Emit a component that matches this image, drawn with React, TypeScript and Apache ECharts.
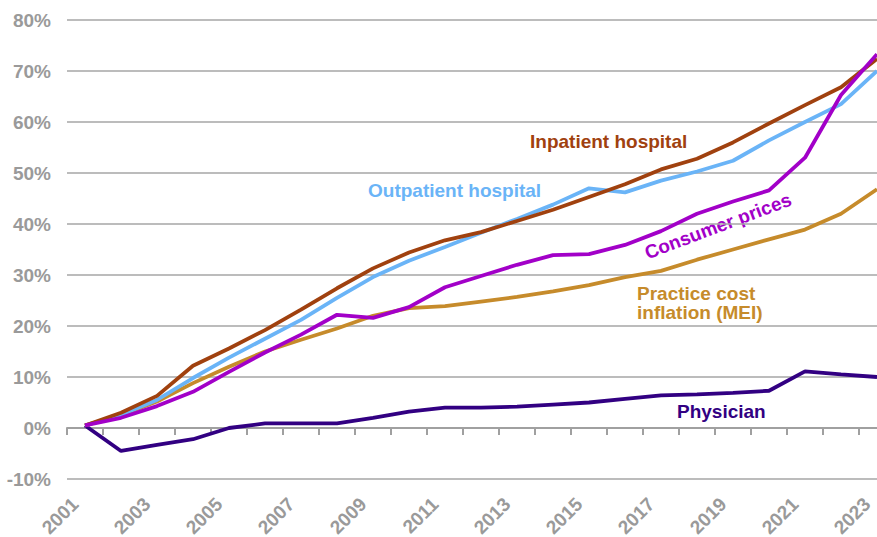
import React, { useEffect, useRef } from "react";
import * as echarts from "echarts";

const years = [
  "2001", "2002", "2003", "2004", "2005", "2006", "2007", "2008", "2009", "2010", "2011", "2012",
  "2013", "2014", "2015", "2016", "2017", "2018", "2019", "2020", "2021", "2022", "2023",
];

const inpatient = [0.5, 3.0, 6.3, 12.2, 15.6, 19.2, 23.2, 27.4, 31.3, 34.4, 36.8, 38.4, 40.6, 42.8, 45.3, 47.8, 50.7, 52.8, 56.0, 59.7, 63.3, 66.8, 72.4];
const outpatient = [0.5, 2.6, 5.5, 9.8, 13.8, 17.5, 21.2, 25.5, 29.6, 32.8, 35.5, 38.3, 41.0, 43.8, 47.0, 46.2, 48.5, 50.3, 52.4, 56.4, 60.0, 63.5, 70.0];
const consumerPrices = [0.5, 2.0, 4.3, 7.1, 11.0, 14.8, 18.3, 22.2, 21.6, 23.7, 27.6, 29.8, 32.0, 33.9, 34.1, 35.9, 38.6, 42.0, 44.4, 46.6, 53.0, 65.3, 73.3];
const practiceCost = [0.5, 2.5, 5.2, 8.8, 12.0, 15.0, 17.3, 19.5, 22.0, 23.5, 23.9, 24.8, 25.7, 26.8, 28.0, 29.6, 30.8, 33.0, 35.0, 37.0, 38.9, 42.0, 46.8];
const physician = [0.5, -4.5, -3.3, -2.2, 0.0, 0.9, 0.9, 0.9, 2.0, 3.2, 4.0, 4.0, 4.2, 4.6, 5.0, 5.7, 6.4, 6.6, 6.9, 7.3, 11.1, 10.5, 10.0];

const yTicks = { min: -10, max: 80, interval: 10 };

const C_IN = "#A0410F";
const C_OUT = "#6AB4F7";
const C_CPI = "#A200C8";
const C_MEI = "#C68B2B";
const C_PHY = "#320082";
const GRAY = "#9a9a9a";
const FONT = "'Liberation Sans', Arial, sans-serif";

export default function App() {
  const ref = useRef<HTMLDivElement>(null);

  useEffect(() => {
    const chart = echarts.init(ref.current!, null, { renderer: "svg" });
    const line = (name: string, data: number[], color: string) => ({
      name,
      type: "line",
      data,
      symbol: "none",
      lineStyle: { color, width: 3.8 },
      itemStyle: { color },
    });
    const txt = (text: string, x: number, y: number, color: string, lineHeight = 19) => ({
      type: "text",
      x,
      y,
      style: {
        text,
        fill: color,
        font: `bold 19px ${FONT}`,
        lineHeight,
        verticalAlign: "middle",
      },
    });
    chart.setOption({
      animation: false,
      backgroundColor: "#ffffff",
      grid: { left: 67, right: -18, top: 20, bottom: 58, outerBoundsMode: "none", containLabel: false },
      xAxis: {
        type: "category",
        data: years,
        boundaryGap: true,
        axisLine: { show: true, lineStyle: { color: "#a0a0a0", width: 2 } },
        axisTick: {
          show: true,
          interval: 0,
          length: 7,
          lineStyle: { color: "#a0a0a0", width: 2 },
        },
        axisLabel: {
          interval: 1,
          rotate: 45,
          margin: 12,
          padding: [0, 14, 0, 0],
          color: GRAY,
          fontSize: 19,
          fontWeight: "bold",
          fontFamily: FONT,
        },
        splitLine: { show: false },
      },
      yAxis: {
        type: "value",
        min: yTicks.min,
        max: yTicks.max,
        interval: yTicks.interval,
        axisLine: { show: false },
        axisTick: { show: false },
        axisLabel: {
          formatter: (v: number) => `${v}%`,
          margin: 16,
          color: GRAY,
          fontSize: 19,
          fontWeight: "bold",
          fontFamily: FONT,
        },
        splitLine: { lineStyle: { color: "#a6a6a6", width: 1.5 } },
      },
      series: [
        line("Physician", physician, C_PHY),
        line("Practice cost inflation (MEI)", practiceCost, C_MEI),
        line("Outpatient hospital", outpatient, C_OUT),
        line("Inpatient hospital", inpatient, C_IN),
        line("Consumer prices", consumerPrices, C_CPI),
      ],
      graphic: [
        txt("Inpatient hospital", 530, 141, C_IN),
        txt("Outpatient hospital", 368, 190, C_OUT),
        txt("Practice cost\ninflation (MEI)", 637, 303, C_MEI, 19),
        txt("Physician", 677, 411, C_PHY),
        {
          type: "text",
          x: 718,
          y: 226,
          rotation: 0.36,
          style: {
            text: "Consumer prices",
            fill: C_CPI,
            font: `bold 19px ${FONT}`,
            align: "center",
            verticalAlign: "middle",
          },
        },
      ],
    });
    return () => chart.dispose();
  }, []);

  return (
    <div
      ref={ref}
      style={{ position: "fixed", left: 0, top: 0, width: 877, height: 537, background: "#fff", overflow: "hidden" }}
    />
  );
}
